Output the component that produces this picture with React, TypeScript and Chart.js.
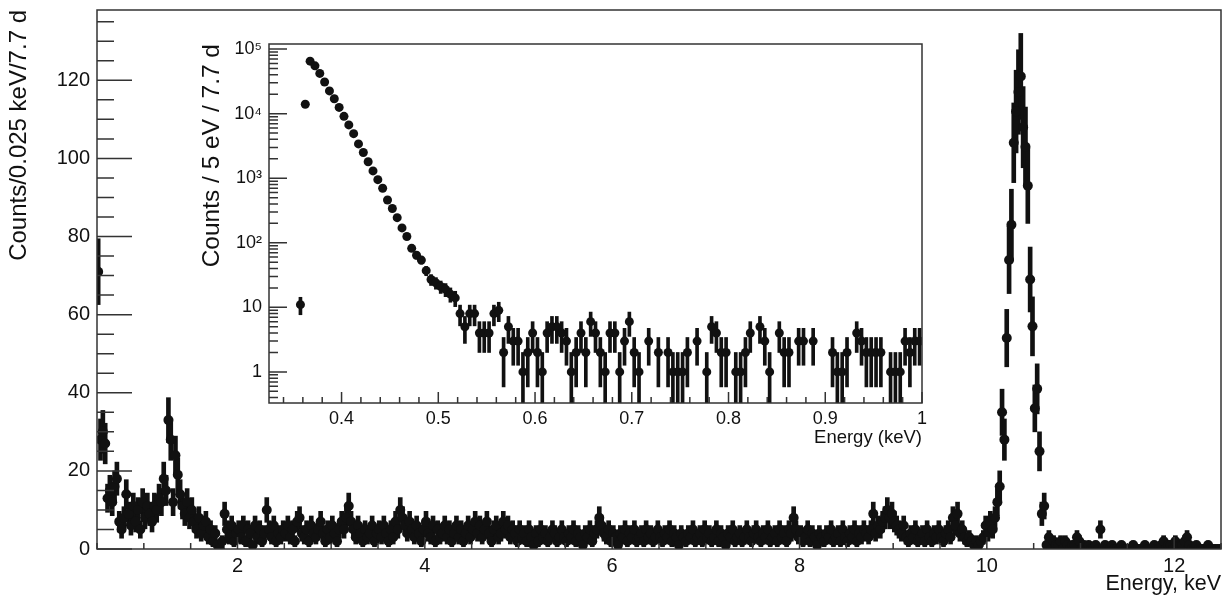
import { useEffect, useRef } from 'react';
import { Chart, registerables } from 'chart.js';

Chart.register(...registerables);

const W = 1226;
const H = 597;
const FONT = "'Liberation Sans', Arial, Helvetica, sans-serif";
const INK = '#111111';
const AXIS = '#333333';

// ---------------- Main spectrum: counts per 0.025 keV bin, 0.5 .. 12.5 keV ----------------
const MAIN_START_KEV = 0.5;
const MAIN_BIN_KEV = 0.025;
const mainCounts: number[] = [
  // 0.5 - 1.5 keV
  71, 28, 30, 27, 13, 15, 12, 16, 18, 7, 5, 8, 14, 9, 6, 11, 7, 10, 5, 12,
  8, 11, 9, 7, 11, 10, 13, 12, 18, 15, 33, 28, 12, 24, 19, 14, 11, 9, 12, 8,
  // 1.5 - 2.5 keV
  10, 7, 5, 8, 4, 6, 7, 3, 5, 2, 4, 1, 0, 2, 9, 5, 3, 6, 2, 4,
  5, 3, 6, 2, 5, 4, 1, 6, 3, 5, 2, 4, 10, 5, 3, 6, 2, 4, 3, 5,
  // 2.5 - 3.5 keV
  4, 6, 3, 5, 2, 7, 8, 4, 3, 5, 2, 6, 4, 3, 5, 7, 4, 2, 5, 3,
  6, 4, 2, 5, 7, 5, 8, 11, 7, 5, 3, 6, 4, 2, 5, 3, 4, 6, 2, 4,
  // 3.5 - 4.5 keV
  5, 3, 6, 4, 2, 5, 3, 7, 5, 10, 8, 6, 4, 7, 5, 3, 6, 4, 2, 5,
  7, 4, 3, 6, 2, 5, 3, 4, 6, 3, 5, 2, 4, 6, 3, 5, 2, 4, 6, 3,
  // 4.5 - 5.5 keV
  5, 7, 4, 6, 3, 5, 7, 4, 2, 5, 6, 3, 4, 7, 5, 6, 3, 5, 4, 2,
  5, 3, 4, 2, 5, 3, 1, 4, 2, 5, 3, 4, 2, 3, 5, 4, 2, 3, 5, 3,
  // 5.5 - 6.5 keV
  2, 4, 3, 5, 2, 4, 3, 1, 4, 3, 5, 2, 4, 5, 8, 6, 4, 3, 5, 2,
  4, 3, 1, 4, 3, 5, 2, 4, 3, 5, 2, 3, 4, 2, 5, 3, 4, 2, 3, 5,
  // 6.5 - 7.5 keV
  3, 2, 4, 3, 5, 2, 4, 3, 1, 4, 3, 2, 4, 3, 5, 2, 3, 4, 2, 5,
  3, 4, 2, 3, 5, 2, 4, 3, 1, 4, 3, 5, 2, 3, 4, 2, 3, 5, 3, 2,
  // 7.5 - 8.5 keV
  4, 5, 3, 2, 4, 3, 5, 2, 3, 4, 2, 5, 3, 4, 2, 5, 4, 8, 5, 3,
  4, 2, 3, 5, 2, 4, 3, 1, 4, 3, 2, 4, 3, 5, 2, 3, 4, 2, 5, 3,
  // 8.5 - 9.5 keV
  2, 4, 3, 5, 2, 4, 3, 5, 4, 3, 5, 9, 4, 6, 5, 7, 8, 10, 8, 9,
  7, 6, 5, 4, 6, 3, 2, 4, 3, 5, 2, 3, 4, 2, 5, 3, 2, 4, 3, 5,
  // 9.5 - 10.5 keV
  3, 2, 4, 5, 3, 8, 6, 9, 4, 5, 3, 2, 3, 2, 1, 2, 1, 2, 3, 6,
  4, 7, 5, 8, 12, 16, 35, 28, 54, 74, 83, 104, 112, 117, 121, 108, 103, 93, 69, 57,
  // 10.5 - 11.5 keV
  36, 41, 25, 9, 11, 1, 3, 0, 2, 1, 1, 2, 0, 2, 1, 0, 1, 1, 3, 2,
  0, 1, 0, 1, 0, 0, 1, 0, 5, 0, 1, 0, 0, 1, 0, 0, 0, 1, 0, 0,
  // 11.5 - 12.5 keV
  0, 0, 1, 0, 0, 0, 0, 1, 0, 0, 0, 1, 0, 0, 1, 2, 0, 1, 1, 0,
  2, 0, 1, 1, 2, 3, 1, 0, 0, 1, 0, 0, 0, 0, 1, 0, 0, 0, 0, 0,
];
const mainXTickValues = [2, 4, 6, 8, 10, 12];
const mainXTickLabels = ['2', '4', '6', '8', '10', '12'];
const mainYTickValues = [0, 20, 40, 60, 80, 100, 120];
const mainYTickLabels = ['0', '20', '40', '60', '80', '100', '120'];

// ---------------- Inset: counts per 5 eV bin, starting at 0.355 keV ----------------
const INSET_START_KEV = 0.355;
const INSET_BIN_KEV = 0.005;
const insetCounts: number[] = [
  11, 14000, 65000, 55000, 42000, 31000, 22500, 17000, 12500, 9100,
  6700, 4900, 3400, 2500, 1800, 1300, 950, 700, 460, 340,
  245, 170, 125, 82, 64, 54, 37, 27, 24, 21,
  19, 16, 14, 8, 5, 8, 8, 4, 4, 4,
  8, 9, 2, 5, 3, 3, 1, 2, 4, 2,
  1, 4, 5, 5, 4, 3, 1, 2, 4, 2,
  6, 4, 2, 1, 4, 4, 1, 3, 6, 2,
  1, 0, 3, 0, 2, 0, 2, 1, 1, 1,
  2, 0, 3, 0, 1, 5, 4, 2, 2, 0,
  1, 1, 2, 4, 0, 5, 3, 1, 0, 4,
  2, 2, 0, 3, 3, 0, 3, 0, 0, 0,
  2, 1, 1, 2, 0, 4, 3, 2, 2, 2,
  2, 0, 1, 1, 1, 3, 2, 3, 3,
];
const insetXTickValues = [0.4, 0.5, 0.6, 0.7, 0.8, 0.9, 1.0];
const insetXTickLabels = ['0.4', '0.5', '0.6', '0.7', '0.8', '0.9', '1'];
const insetYTickValues = [1, 10, 100, 1000, 10000, 100000];
const insetYTickLabels = ['1', '10', '10\u00B2', '10\u00B3', '10\u2074', '10\u2075'];

// ---------------- helpers ----------------
const binCenters = (start: number, width: number, n: number) =>
  Array.from({ length: n }, (_, i) => +(start + (i + 0.5) * width).toFixed(5));

const range = (from: number, to: number, step: number) => {
  const out: number[] = [];
  for (let v = from; v <= to + step * 1e-6; v += step) out.push(+v.toFixed(6));
  return out;
};

type TickSet = { values: number[]; length: number };

function makeFramePlugin(id: string, xTicks: TickSet[], yTicks: TickSet[], fillWhite: boolean) {
  return {
    id,
    beforeDatasetsDraw(chart: any) {
      if (!fillWhite) return;
      const a = chart.chartArea;
      const ctx = chart.ctx;
      ctx.save();
      ctx.fillStyle = '#ffffff';
      ctx.fillRect(a.left, a.top, a.right - a.left, a.bottom - a.top);
      ctx.restore();
    },
    afterDatasetsDraw(chart: any) {
      const { ctx, chartArea: a, scales } = chart;
      ctx.save();
      ctx.strokeStyle = AXIS;
      ctx.lineWidth = 1.5;
      ctx.beginPath();
      for (const t of xTicks) {
        for (const v of t.values) {
          const px = scales.x.getPixelForValue(v);
          if (px < a.left - 0.5 || px > a.right + 0.5) continue;
          ctx.moveTo(px, a.bottom);
          ctx.lineTo(px, a.bottom - t.length);
        }
      }
      for (const t of yTicks) {
        for (const v of t.values) {
          const py = scales.y.getPixelForValue(v);
          if (py < a.top - 0.5 || py > a.bottom + 0.5) continue;
          ctx.moveTo(a.left, py);
          ctx.lineTo(a.left + t.length, py);
        }
      }
      ctx.stroke();
      ctx.strokeRect(a.left, a.top, a.right - a.left, a.bottom - a.top);
      ctx.restore();
    },
  };
}

const fixWidth = (w: number) => (s: any) => {
  s.width = w;
  s.paddingTop = 0;
  s.paddingBottom = 0;
};
const fixHeight = (h: number) => (s: any) => {
  s.height = h;
  s.paddingLeft = 0;
  s.paddingRight = 0;
};

export default function App() {
  const mainRef = useRef<HTMLCanvasElement>(null);
  const insetRef = useRef<HTMLCanvasElement>(null);

  useEffect(() => {
    // main data
    const mx = binCenters(MAIN_START_KEV, MAIN_BIN_KEV, mainCounts.length);
    const mainPoints = mainCounts.map((c, i) => ({ x: mx[i], y: c }));
    const mainErrors = mainCounts
      .map((c, i) => ({ x: mx[i], y: [c - Math.sqrt(c), c + Math.sqrt(c)] as [number, number], c }))
      .filter((d) => d.c > 0)
      .map(({ x, y }) => ({ x, y }));

    // inset data
    const ix = binCenters(INSET_START_KEV, INSET_BIN_KEV, insetCounts.length);
    const insetPoints = insetCounts
      .map((c, i) => ({ x: ix[i], y: c }))
      .filter((d) => d.y > 0);
    const insetErrors = insetCounts
      .map((c, i) => ({ x: ix[i], y: [Math.max(c - Math.sqrt(c), 0.2), c + Math.sqrt(c)] as [number, number], c }))
      .filter((d) => d.c > 0)
      .map(({ x, y }) => ({ x, y }));

    const mainFrame = makeFramePlugin(
      'mainFrame',
      [
        { values: range(0.5, 12.5, 0.5), length: 6 },
        { values: mainXTickValues, length: 12 },
      ],
      [
        { values: range(0, 135, 5), length: 17 },
        { values: mainYTickValues, length: 35 },
      ],
      false,
    );

    const decadeMinors: number[] = [];
    for (const d of [0.1, 1, 10, 100, 1000, 10000, 100000]) {
      for (let m = 2; m <= 9; m++) decadeMinors.push(m * d);
    }
    const insetFrame = makeFramePlugin(
      'insetFrame',
      [
        { values: range(0.34, 0.98, 0.02), length: 6 },
        { values: insetXTickValues, length: 11 },
      ],
      [
        { values: decadeMinors, length: 9 },
        { values: insetYTickValues, length: 18 },
      ],
      true,
    );

    const noGrid = { display: false, drawTicks: false, drawOnChartArea: false };

    const main = new Chart(mainRef.current as HTMLCanvasElement, {
      type: 'scatter',
      data: {
        datasets: [
          {
            type: 'bar',
            data: mainErrors as any,
            backgroundColor: INK,
            borderWidth: 0,
            barThickness: 4,
            order: 2,
          } as any,
          {
            type: 'scatter',
            data: mainPoints,
            pointRadius: 5,
            pointBackgroundColor: INK,
            pointBorderColor: INK,
            pointBorderWidth: 0,
            borderWidth: 0,
            showLine: false,
            order: 1,
          } as any,
        ],
      },
      options: {
        responsive: false,
        animation: false,
        devicePixelRatio: 1,
        layout: { padding: { left: 0, top: 10, right: 4, bottom: 0 } },
        plugins: { legend: { display: false }, tooltip: { enabled: false } },
        scales: {
          x: {
            type: 'linear',
            min: 0.5,
            max: 12.5,
            offset: false,
            bounds: 'data',
            grid: noGrid,
            border: { display: false },
            afterBuildTicks: (s: any) => {
              s.ticks = mainXTickValues.map((v) => ({ value: v }));
            },
            afterFit: fixHeight(48),
            ticks: {
              autoSkip: false,
              maxRotation: 0,
              padding: 5,
              color: INK,
              font: { family: FONT, size: 20 },
              callback: (_v: any, i: number) => mainXTickLabels[i],
            },
            title: {
              display: true,
              text: 'Energy, keV',
              align: 'end',
              color: INK,
              font: { family: FONT, size: 21.5 },
              padding: { top: 0, bottom: 0 },
            },
          } as any,
          y: {
            type: 'linear',
            min: 0,
            max: 138,
            bounds: 'data',
            grid: noGrid,
            border: { display: false },
            afterBuildTicks: (s: any) => {
              s.ticks = mainYTickValues.map((v) => ({ value: v }));
            },
            afterFit: fixWidth(97),
            ticks: {
              autoSkip: false,
              padding: 7,
              color: INK,
              font: { family: FONT, size: 20 },
              callback: (_v: any, i: number) => mainYTickLabels[i],
            },
            title: {
              display: true,
              text: 'Counts/0.025 keV/7.7 d',
              align: 'end',
              color: INK,
              font: { family: FONT, size: 24 },
              padding: { top: 5, bottom: 0 },
            },
          } as any,
        },
      },
      plugins: [mainFrame as any],
    });

    const inset = new Chart(insetRef.current as HTMLCanvasElement, {
      type: 'scatter',
      data: {
        datasets: [
          {
            type: 'bar',
            data: insetErrors as any,
            backgroundColor: INK,
            borderWidth: 0,
            barThickness: 3,
            order: 2,
          } as any,
          {
            type: 'scatter',
            data: insetPoints,
            pointRadius: 4.5,
            pointBackgroundColor: INK,
            pointBorderColor: INK,
            pointBorderWidth: 0,
            borderWidth: 0,
            showLine: false,
            order: 1,
          } as any,
        ],
      },
      options: {
        responsive: false,
        animation: false,
        devicePixelRatio: 1,
        layout: { padding: { left: 195, top: 44, right: 304, bottom: 142 } },
        plugins: { legend: { display: false }, tooltip: { enabled: false } },
        scales: {
          x: {
            type: 'linear',
            min: 0.325,
            max: 1.0,
            offset: false,
            bounds: 'data',
            grid: noGrid,
            border: { display: false },
            afterBuildTicks: (s: any) => {
              s.ticks = insetXTickValues.map((v) => ({ value: v }));
            },
            afterFit: fixHeight(52),
            ticks: {
              autoSkip: false,
              maxRotation: 0,
              padding: 5,
              color: INK,
              font: { family: FONT, size: 18 },
              callback: (_v: any, i: number) => insetXTickLabels[i],
            },
            title: {
              display: true,
              text: 'Energy (keV)',
              align: 'end',
              color: INK,
              font: { family: FONT, size: 18.5 },
              padding: { top: 0, bottom: 6 },
            },
          } as any,
          y: {
            type: 'logarithmic',
            min: 0.33,
            max: 120000,
            bounds: 'data',
            grid: noGrid,
            border: { display: false },
            afterBuildTicks: (s: any) => {
              s.ticks = insetYTickValues.map((v) => ({ value: v }));
            },
            afterFit: fixWidth(74),
            ticks: {
              autoSkip: false,
              padding: 7,
              color: INK,
              font: { family: FONT, size: 18 },
              callback: (_v: any, i: number) => insetYTickLabels[i],
            },
            title: {
              display: true,
              text: 'Counts / 5 eV / 7.7 d',
              align: 'end',
              color: INK,
              font: { family: FONT, size: 24.5 },
              padding: { top: 3, bottom: 0 },
            },
          } as any,
        },
      },
      plugins: [insetFrame as any],
    });

    return () => {
      main.destroy();
      inset.destroy();
    };
  }, []);

  return (
    <div style={{ position: 'absolute', left: 0, top: 0, width: W, height: H, background: '#ffffff' }}>
      <canvas ref={mainRef} width={W} height={H} style={{ position: 'absolute', left: 0, top: 0, display: 'block' }} />
      <canvas ref={insetRef} width={W} height={H} style={{ position: 'absolute', left: 0, top: 0, display: 'block' }} />
    </div>
  );
}
